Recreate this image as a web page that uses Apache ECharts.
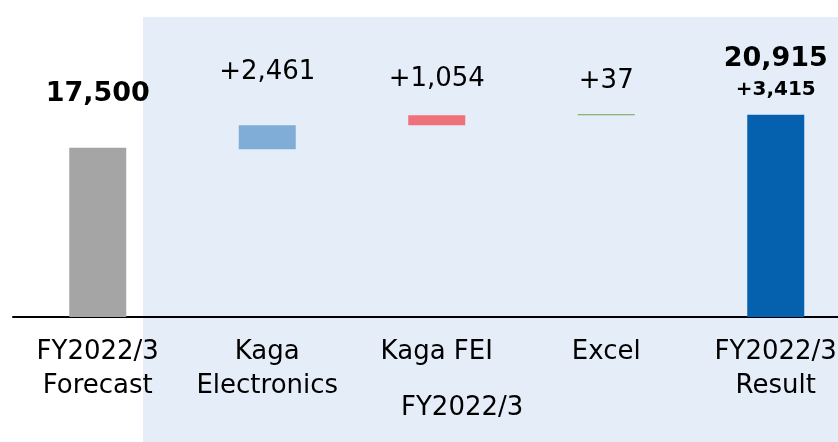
<!DOCTYPE html>
<html>
<head>
<meta charset="utf-8">
<script src="https://cdn.jsdelivr.net/npm/echarts@6/dist/echarts.min.js"></script>
<style>
html,body{margin:0;padding:0;background:#fff;}
#c{width:838px;height:442px;}
</style>
</head>
<body>
<div id="c"></div>
<script>
var categories = ['FY2022/3\nForecast', 'Kaga\nElectronics', 'Kaga FEI', 'Excel', 'FY2022/3\nResult'];
var forecast = 17500;
var deltas = [2461, 1054, 37];
var result = 20915;
var groupLabel = 'FY2022/3';

var barColors = ['#a5a5a5', '#7fadd7', '#ef717b', '#70a050', '#0560ae'];
var labelDist = [39, 38, 21, 18, 12];

function fmt(n){ return n.toLocaleString('en-US'); }

// Build waterfall: steps are stacked backward from the result
var values = [forecast].concat(deltas).concat([result]);
var bases = [0];
var acc = result;
var tmp = [];
for (var i = deltas.length - 1; i >= 0; i--) { acc -= deltas[i]; tmp.unshift(acc); }
bases = bases.concat(tmp).concat([0]);

var font = 'DejaVu Sans';
var chart = echarts.init(document.getElementById('c'));
chart.setOption({
  animation: false,
  backgroundColor: '#ffffff',
  grid: {left: 13, right: -22.5, top: 27, bottom: 125, containLabel: false, outerBoundsMode: 'none'},
  graphic: [
    {type: 'rect', z: -10, silent: true, shape: {x: 143, y: 17, width: 695, height: 425}, style: {fill: '#e5eef8'}},
    {type: 'text', z: 10, left: 461 - 60, top: 395, style: {text: groupLabel, font: '26px "DejaVu Sans"', fill: '#000', width: 120, align: 'center'}}
  ],
  xAxis: {
    type: 'category',
    data: categories,
    axisLine: {lineStyle: {color: '#000', width: 2}},
    axisTick: {show: false},
    axisLabel: {interval: 0, color: '#000', fontFamily: font, fontSize: 26, lineHeight: 34, margin: 18}
  },
  yAxis: {type: 'value', min: 0, max: 30000, show: false, splitLine: {show: false}},
  series: [
    {
      type: 'bar', stack: 'w', barWidth: 57, silent: true,
      itemStyle: {color: 'transparent'},
      data: bases
    },
    {
      type: 'bar', stack: 'w', barWidth: 57, barMinHeight: 1,
      data: values.map(function(v, i){
        var item = {value: v, itemStyle: {color: barColors[i]}, label: {distance: labelDist[i]}};
        return item;
      }),
      label: {
        show: true, position: 'top', color: '#000', fontFamily: font, fontSize: 26, lineHeight: 30,
        formatter: function(p){
          var i = p.dataIndex;
          if (i === 0) return '{b|' + fmt(p.value) + '}';
          if (i === values.length - 1) return '{a|' + fmt(p.value) + '}\n{c|+' + fmt(result - forecast) + '}';
          return '+' + fmt(p.value);
        },
        rich: {
          a: {fontFamily: font, fontSize: 27, fontWeight: 'bold', lineHeight: 36, color: '#000'},
          b: {fontFamily: font, fontSize: 27, fontWeight: 'bold', lineHeight: 30, color: '#000'},
          c: {fontFamily: font, fontSize: 20, fontWeight: 'bold', lineHeight: 26, color: '#000'}
        }
      }
    }
  ]
});
</script>
</body>
</html>
